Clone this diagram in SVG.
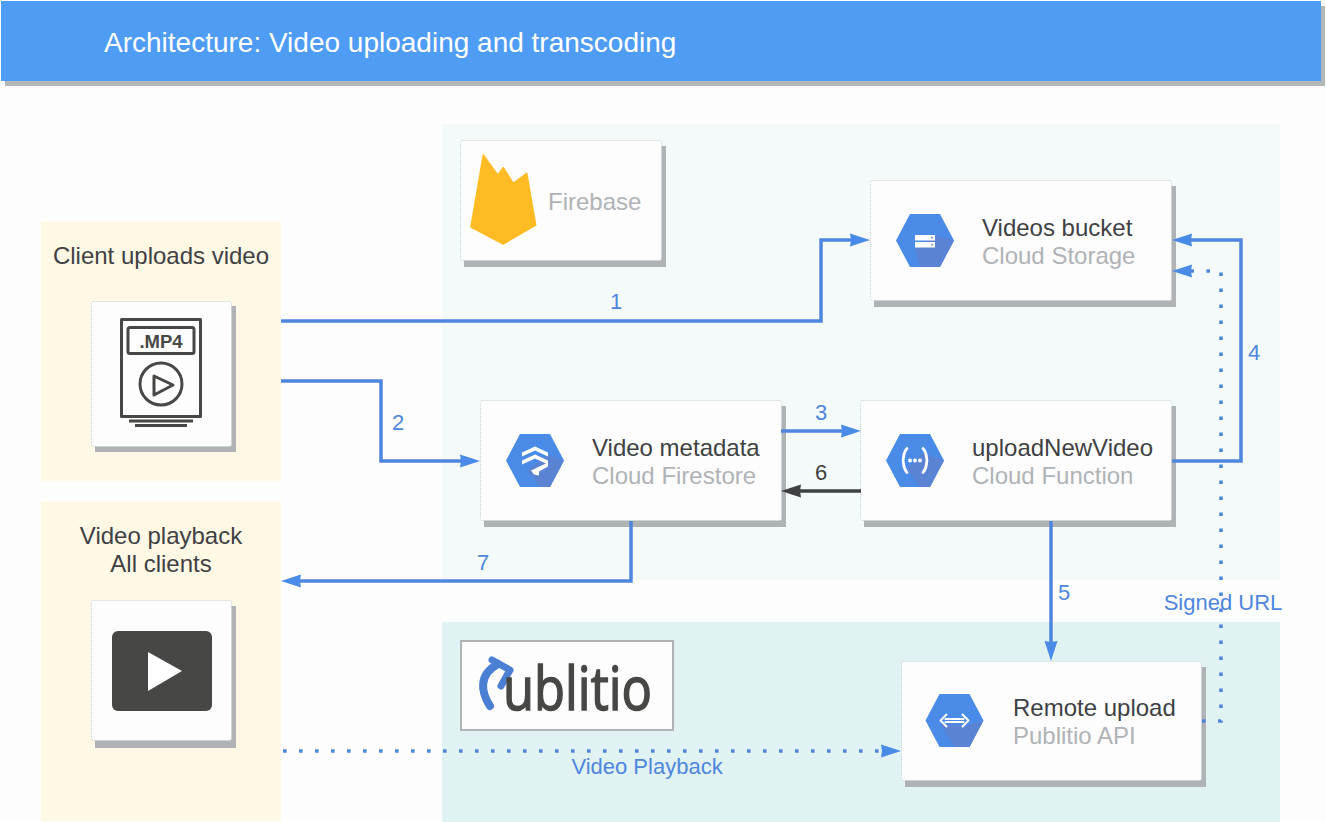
<svg xmlns="http://www.w3.org/2000/svg" width="1326" height="822" viewBox="0 0 1326 822">
<style>
text{font-family:"Liberation Sans",Arial,sans-serif;font-size:24px;fill:#3f4144}
.sub{fill:#b0b3b6}
.lbl{font-size:22px;fill:#4f86dd}
.mid{text-anchor:middle}
.card{fill:#fdfdfd;stroke:#c4d2d2;stroke-width:1;stroke-dasharray:1 1}
.shadow{fill:#b0b3b6}
.hex{fill:#4a8be8}
.facet{fill:#5a83d4}
.w{fill:none;stroke:#fff;stroke-width:2.8;stroke-linecap:round;stroke-linejoin:round}
.ico{fill:none;stroke:#474845;stroke-width:3;stroke-linejoin:round}
.c{fill:none;stroke:#4f86dd;stroke-width:3.5}
.d{fill:none;stroke:#4f86dd;stroke-width:3.6;stroke-dasharray:3.6 12.4}
</style>
<defs>
<marker id="a" markerUnits="userSpaceOnUse" markerWidth="22" markerHeight="16" refX="10" refY="8" orient="auto"><path d="M0,1.500L20,8L0,14.500L1,8Z" fill="#4a8be8"/></marker>
<marker id="k" markerUnits="userSpaceOnUse" markerWidth="22" markerHeight="16" refX="10" refY="8" orient="auto"><path d="M0,1.500L20,8L0,14.500L1,8Z" fill="#3f4144"/></marker>
<polygon id="hx" points="-29,0 -15,-26.500 15,-26.500 29,0 15,26.500 -15,26.500"/>
</defs>
<rect width="1326" height="822" fill="#fdfdfd"/>
<g id="header">
<rect x="5" y="6" width="1320" height="80" fill="#b4b6b8"/>
<rect x="1" y="1" width="1320" height="80" fill="#4f9cf5"/>
<text x="104" y="52" style="font-size:28px;fill:#fff">Architecture: Video uploading and transcoding</text>
</g>
<g id="panels">
<rect x="442" y="124" width="838" height="456" fill="#f4fafa"/>
<rect x="442" y="622" width="838" height="200" fill="#e0f2f1"/>
<rect x="41" y="221" width="240" height="260" fill="#fff8e4"/>
<rect x="41" y="501" width="240" height="320" fill="#fff8e4"/>
<text class="mid" x="161" y="264">Client uploads video</text>
<text class="mid" x="161" y="544">Video playback</text>
<text class="mid" x="161" y="572">All clients</text>
</g>
<g id="firebase">
<rect class="shadow" x="464" y="146" width="202" height="121"/>
<rect class="card" x="460.500" y="140.500" width="201" height="120" rx="2"/>
<path d="M471,227L483.300,155L497.700,175L503.300,167.700L513.300,183.300L526.700,173.300L535.700,225L503.300,244Z" fill="#ffbb24" stroke="#ffbb24" stroke-width="1.500" stroke-linejoin="round"/>
<text class="sub" x="548" y="210">Firebase</text>
</g>
<g id="client-upload">
<rect class="shadow" x="95" y="306" width="141" height="146"/>
<rect class="card" x="91.500" y="301.500" width="140" height="145" rx="2"/>
<rect class="ico" x="121.500" y="319.500" width="79" height="97"/>
<rect class="ico" x="128" y="327.500" width="66" height="26" rx="2"/>
<text class="mid" x="161" y="348" style="font-size:18.500px;font-weight:bold;fill:#474845">.MP4</text>
<circle class="ico" cx="161" cy="384" r="21"/>
<path class="ico" d="M154,376L173,385L154,395Z"/>
<path class="ico" d="M129,421H193M135,425.500H187"/>
</g>
<g id="client-playback">
<rect class="shadow" x="95" y="606" width="141" height="142"/>
<rect class="card" x="91.500" y="600.500" width="140" height="140" rx="2"/>
<rect x="112" y="631" width="100" height="80" rx="6" fill="#474845"/>
<path d="M148,652L182,671L148,691Z" fill="#fff"/>
</g>
<g id="storage">
<rect class="shadow" x="874" y="186" width="302" height="121"/>
<rect class="card" x="870.500" y="180.500" width="301" height="120" rx="2"/>
<g transform="translate(925,240.500)">
<use href="#hx" class="hex"/>
<path class="facet" d="M-10,7L10,-5L29,0L15,26.500L-5,26.500Z"/>
<rect x="-10" y="-5.500" width="20" height="5.500" fill="#fff"/>
<rect x="-10" y="1.500" width="20" height="5.500" fill="#fff"/>
<circle cx="7" cy="-2.800" r="0.900" fill="#5a83d4"/>
<circle cx="7" cy="4.200" r="0.900" fill="#5a83d4"/>
</g>
<text x="982" y="236">Videos bucket</text>
<text class="sub" x="982" y="264">Cloud Storage</text>
</g>
<g id="firestore">
<rect class="shadow" x="484" y="406" width="302" height="121"/>
<rect class="card" x="480.500" y="400.500" width="301" height="120" rx="2"/>
<g transform="translate(535,460.500)">
<use href="#hx" class="hex"/>
<path class="facet" d="M-8,10L12,-6L29,0L15,26.500L5,26.500Z"/>
<path d="M-13,-8L0,-14L13,-8V-4L0,-10L-13,-4Z M-13,0L0,-6L13,0V4L0,-2L-13,4Z M-4,10L13,2V6L4,11V15L-1,14Z" fill="#fff"/>
</g>
<text x="592" y="456">Video metadata</text>
<text class="sub" x="592" y="484">Cloud Firestore</text>
</g>
<g id="function">
<rect class="shadow" x="864" y="406" width="312" height="121"/>
<rect class="card" x="860.500" y="400.500" width="311" height="120" rx="2"/>
<g transform="translate(915,460.500)">
<use href="#hx" class="hex"/>
<path class="facet" d="M-8,8L8,-8L29,0L15,26.500L5,26.500Z"/>
<path class="w" d="M-8,-12C-12,-8-11,-4-12,0C-11,4-12,8-8,12M8,-12C12,-8,11,-4,12,0C11,4,12,8,8,12"/>
<circle cx="-5" r="2" fill="#fff"/><circle r="2" fill="#fff"/><circle cx="5" r="2" fill="#fff"/>
</g>
<text x="972" y="456">uploadNewVideo</text>
<text class="sub" x="972" y="484">Cloud Function</text>
</g>
<g id="remote">
<rect class="shadow" x="905" y="667" width="301" height="120"/>
<rect class="card" x="901.500" y="661.500" width="300" height="119" rx="2"/>
<g transform="translate(954.500,720.500)">
<use href="#hx" class="hex"/>
<path class="facet" d="M-14,4H14L29,0L15,26.500L0,26.500Z"/>
<path class="w" d="M-8,-6L-14,0L-8,6M8,-6L14,0L8,6M-9,-1.500H9M-9,1.500H9" style="stroke-width:2"/>
</g>
<text x="1013" y="716">Remote upload</text>
<text class="sub" x="1013" y="744">Publitio API</text>
</g>
<g id="publitio">
<rect x="461" y="641" width="212" height="89" fill="#fdfdfd" stroke="#b0b3b6" stroke-width="2"/>
<path d="M490,706C481,692,478,675,498,664" fill="none" stroke="#4a7fd4" stroke-width="8" stroke-linecap="round"/>
<path d="M492,660L510,670L501,686" fill="none" stroke="#4a7fd4" stroke-width="7" stroke-linecap="round" stroke-linejoin="round"/>
<text x="503" y="710" style="font-family:'Open Sans',sans-serif;font-size:60px;fill:#474845;stroke:#474845;stroke-width:1.500" textLength="149" lengthAdjust="spacingAndGlyphs">ublitio</text>
</g>
<g id="connectors">
<path class="c" d="M281,321H821V240H860" marker-end="url(#a)"/>
<path class="c" d="M281,381H381V461H470" marker-end="url(#a)"/>
<path class="c" d="M781,431H851" marker-end="url(#a)"/>
<path class="c" d="M861,491H791" style="stroke:#3f4144" marker-end="url(#k)"/>
<path class="c" d="M1172,461H1241V240H1182" marker-end="url(#a)"/>
<path class="c" d="M1051,521V651" marker-end="url(#a)"/>
<path class="c" d="M631,521V581H291" marker-end="url(#a)"/>
<path class="d" d="M1202,721H1221V271H1182" marker-end="url(#a)"/>
<path class="d" d="M283,751H891" marker-end="url(#a)"/>
<text class="lbl mid" x="616" y="309">1</text>
<text class="lbl mid" x="398" y="430">2</text>
<text class="lbl mid" x="821" y="420">3</text>
<text class="lbl mid" x="1254" y="360">4</text>
<text class="lbl mid" x="1064" y="600">5</text>
<text class="lbl mid" x="821" y="480" style="fill:#3f4144">6</text>
<text class="lbl mid" x="483" y="570">7</text>
<text class="lbl mid" x="1223" y="610">Signed URL</text>
<text class="lbl mid" x="647" y="774">Video Playback</text>
</g>
</svg>
